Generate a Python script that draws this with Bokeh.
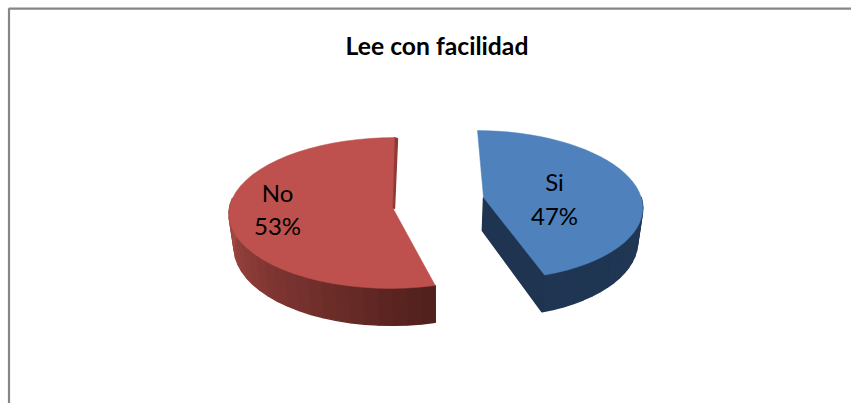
import math
from bokeh.plotting import figure
from bokeh.models import Range1d, ColumnDataSource
from bokeh.core.properties import value
from bokeh.embed import file_html
from bokeh.resources import INLINE

title_text = "Lee con facilidad"
categories = ["Si", "No"]
values = [47, 53]

# shape constants per slice
SHAPE = {
    "Si": dict(cx=483, cy=198, apex=(483, 197), a=158, b=74, k=0.09, skew=6, warp=8, lim=85,
               top="#4F81BD", side0="#1F3552", side1="#203856", wall="#1E3450"),
    "No": dict(cx=392, cy=207, apex=(392, 207), a=163, b=75, k=0.0728, skew=-2, warp=4, lim=282,
               top="#BE504D", side0="#501F1C", side1="#A84A46", wall="#8E3B38"),
}
VX, SCALE = 436, 0.975


def pt(s, t):
    r = math.radians(t)
    u, v = math.sin(r), -math.cos(r)
    den = 1 - s["k"] * v
    return s["cx"] + s["a"] * u / den + s["skew"] * v, s["cy"] + s["b"] * v / den, v


def warp(s, t):
    return t - s["warp"] * (1 - math.cos(math.radians(t))) / 2


def drop(x, y, v):
    return VX + (x - VX) * SCALE, y + 33 + 4 * v


def mix(c0, c1, f):
    a = [int(c0[i:i + 2], 16) for i in (1, 3, 5)]
    b = [int(c1[i:i + 2], 16) for i in (1, 3, 5)]
    return "#%02x%02x%02x" % tuple(round(p + (q - p) * f) for p, q in zip(a, b))


p = figure(width=851, height=403, output_backend="svg", toolbar_location=None,
           x_range=Range1d(0, 851), y_range=Range1d(403, 0), min_border=0,
           outline_line_color=None, background_fill_color="white", border_fill_color="white")
p.axis.visible = False
p.grid.visible = False

# chart frame
p.line([8.5, 8.5, 851], [403, 8.2, 8.2], line_color="#868686", line_width=2.2)

total = sum(values)
start = 0.0
xs, ys, cols = [], [], []
top_xs, top_ys, top_cols = [], [], []
for cat, val in zip(categories, values):
    s = SHAPE[cat]
    end = start + 360 * val / total
    n = 40
    ts = [warp(s, start + (end - start) * i / n) for i in range(n + 1)]
    arc = [pt(s, t) for t in ts]
    ax, ay = s["apex"]
    # outer side, as narrow shaded strips
    if cat == "Si":
        vis = [t for t in ts if t >= s["lim"]]
        e_t = ts[-1]
    else:
        vis = [t for t in ts if t <= s["lim"]]
        e_t = ts[0]
    span = max(abs(t - e_t) for t in vis)
    for t0, t1 in zip(vis[:-1], vis[1:]):
        x0, y0, v0 = pt(s, t0)
        x1, y1, v1 = pt(s, t1)
        a0, b0 = drop(x0, y0, v0)
        a1, b1 = drop(x1, y1, v1)
        c = mix(s["side0"], s["side1"], abs((t0 + t1) / 2 - e_t) / span)
        xs.append([x0, x1, a1, a0])
        ys.append([y0, y1, b1, b0])
        cols.append(c)
    # radial wall
    if cat == "Si":
        ex, ey, ev = arc[-1]
        a0, b0 = drop(ex, ey, ev)
        a1, b1 = drop(ax, ay, 0)
        xs.append([ax, ex, a0, a1])
        ys.append([ay, ey, b0, b1])
        cols.append(s["wall"])
    else:
        ex, ey, ev = arc[-1]
        xs.append([ex, ex + 3, ax + 2, ax])
        ys.append([ey, ey + 1, ay + 1, ay])
        cols.append(s["wall"])
    top_xs.append([ax] + [q[0] for q in arc])
    top_ys.append([ay] + [q[1] for q in arc])
    top_cols.append(s["top"])
    start = end

p.patches("xs", "ys", fill_color="cols", line_color="cols", line_width=1.4,
          source=ColumnDataSource(dict(xs=xs, ys=ys, cols=cols)))
p.patches("xs", "ys", fill_color="cols", line_color="cols", line_width=0.5,
          source=ColumnDataSource(dict(xs=top_xs, ys=top_ys, cols=top_cols)))

# slice labels
LABEL_POS = {"Si": (554, 181, 215), "No": (277, 192, 225)}
lx, ly, lt = [], [], []
for cat, val in zip(categories, values):
    x, y1, y2 = LABEL_POS[cat]
    lx += [x, x]
    ly += [y1, y2]
    lt += [cat, f"{round(100 * val / total)}%"]
p.text(lx, ly, text=lt, text_font=value("Lato"), text_font_size="24px", text_color="black",
       text_align="center", text_baseline="middle")

p.text([436.5], [45], text=[title_text], text_font=value("Lato"), text_font_size="24.7px",
       text_font_style="bold", text_color="black", text_align="center", text_baseline="middle")

open("out.html", "w").write(file_html(p, INLINE))
